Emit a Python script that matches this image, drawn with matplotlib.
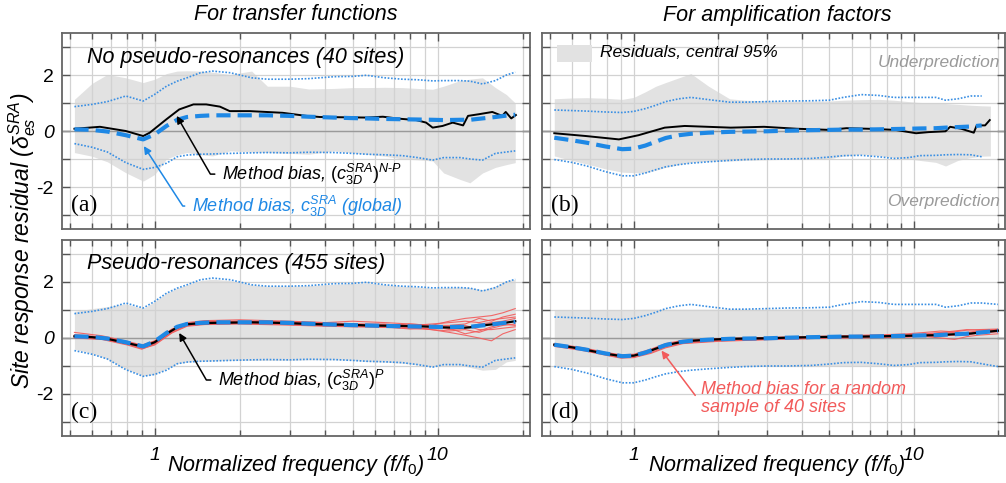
import numpy as np
import matplotlib
matplotlib.use("Agg")
import matplotlib.pyplot as plt
from matplotlib.patches import Rectangle

plt.rcParams['font.family'] = ['Liberation Sans', 'DejaVu Sans']
plt.rcParams['mathtext.fontset'] = 'custom'
plt.rcParams['mathtext.it'] = 'Liberation Sans:italic'
plt.rcParams['mathtext.rm'] = 'Liberation Sans'
plt.rcParams['mathtext.bf'] = 'Liberation Sans:bold'

# ---------------- data ----------------
freq = [0.52, 0.6, 0.68, 0.79, 0.91, 1.0, 1.1, 1.2, 1.3, 1.45, 1.6, 1.85, 2.2, 2.5, 3.0,
        3.5, 4.3, 5.0, 5.6, 6.5, 7.5, 8.5, 9.6, 10.5, 12, 13, 14.4, 16, 17.5, 18.8]
freq_d = [0.52, 0.6, 0.68, 0.79, 0.91, 1.0, 1.1, 1.2, 1.3, 1.45, 1.6, 1.85, 2.2, 2.5, 3.0,
          3.5, 4.3, 5.0, 5.6, 6.5, 7.5, 8.5, 9.6, 10.5, 12, 13, 14.4, 16, 17.5, 20.0]

# transfer functions, global (a, c)
tf_global = [0.06, 0.04, -0.02, -0.15, -0.3, -0.12, 0.18, 0.4, 0.5, 0.54, 0.56, 0.56, 0.56, 0.56, 0.54,
             0.51, 0.48, 0.46, 0.45, 0.43, 0.42, 0.41, 0.4, 0.39, 0.4, 0.4, 0.45, 0.5, 0.55, 0.58]
tf_up = [0.87, 0.95, 1.05, 1.25, 1.07, 1.31, 1.6, 1.78, 1.9, 2.08, 2.14, 2.08, 1.9, 1.85, 1.85,
         1.87, 1.94, 1.95, 1.99, 1.9, 1.85, 1.83, 1.79, 1.8, 1.8, 1.78, 1.68, 1.8, 2.0, 2.1]
tf_lo = [-0.45, -0.58, -0.75, -1.13, -1.37, -1.3, -1.15, -0.92, -0.86, -0.83, -0.82, -0.8, -0.78, -0.77, -0.78,
         -0.76, -0.77, -0.8, -0.83, -0.85, -0.88, -0.95, -1.04, -0.95, -0.95, -1.0, -1.04, -0.8, -0.75, -0.71]

# (a) no pseudo-resonances
gray_a_up = [1.13, 1.7, 2.02, 1.9, 1.73, 1.85, 2.05, 2.14, 2.15, 2.14, 2.1, 2.02, 2.14, 1.6, 1.6,
             1.5, 1.52, 1.55, 1.55, 1.56, 1.55, 1.52, 1.49, 1.6, 1.8, 1.85, 1.9, 1.55, 1.3, 1.0]
gray_a_lo = [-0.77, -0.9, -1.1, -1.49, -1.79, -1.55, -1.0, -0.85, -0.77, -0.85, -0.89, -0.71, -0.75, -0.77, -0.8,
             -0.83, -0.71, -0.78, -0.83, -0.9, -1.0, -1.03, -1.07, -1.5, -1.73, -1.85, -1.5, -1.3, -1.2, -1.13]
freq_np_tf = [0.52, 0.64, 0.79, 0.91, 0.96, 1.1, 1.22, 1.37, 1.52, 1.7, 1.84, 2.17, 2.83, 3.43, 3.83, 5.6,
              6.4, 7.3, 8.4, 9.1, 9.6, 10.4, 11.3, 12.3, 12.8, 14.0, 15.6, 16.9, 17.4, 18.2, 18.9]
bias_np_tf = [0.08, 0.15, 0.0, -0.18, -0.06, 0.42, 0.77, 0.95, 0.95, 0.87, 0.71, 0.71, 0.65, 0.54, 0.5, 0.48,
              0.51, 0.44, 0.39, 0.3, 0.12, 0.18, 0.3, 0.2, 0.54, 0.6, 0.68, 0.54, 0.68, 0.45, 0.57]

# (c) pseudo-resonances
gray_c_up = [0.95, 1.05, 1.12, 1.22, 1.05, 1.3, 1.6, 1.78, 1.9, 2.05, 2.1, 2.05, 1.9, 1.85, 1.85,
             1.87, 1.92, 1.95, 1.97, 1.9, 1.85, 1.82, 1.78, 1.8, 1.82, 1.8, 1.72, 1.85, 2.05, 2.1]
gray_c_lo = [-0.4, -0.55, -0.75, -1.1, -1.35, -1.3, -1.1, -0.92, -0.86, -0.83, -0.82, -0.8, -0.8, -0.8, -0.8,
             -0.78, -0.78, -0.8, -0.84, -0.86, -0.9, -0.96, -1.02, -0.97, -0.97, -1.05, -1.15, -1.12, -0.85, -0.8]
bias_p_tf = [0.06, 0.03, -0.03, -0.17, -0.31, -0.15, 0.15, 0.38, 0.49, 0.53, 0.54, 0.55, 0.56, 0.55, 0.53,
             0.5, 0.48, 0.47, 0.45, 0.44, 0.43, 0.42, 0.4, 0.38, 0.36, 0.38, 0.45, 0.5, 0.55, 0.6]

freq_r = [0.52, 0.65, 0.8, 0.9, 1.0, 1.15, 1.3, 1.5, 2.0, 3.0, 4.0, 5.0, 6.5, 8.0, 9.5, 11, 12.5, 14, 15.5, 17, 18.8]
red_c = [
    [0.2, 0.08, -0.12, -0.25, -0.1, 0.32, 0.55, 0.62, 0.65, 0.6, 0.55, 0.6, 0.55, 0.5, 0.45, 0.6, 0.7, 0.75, 0.8, 0.9, 1.05],
    [0.02, -0.04, -0.22, -0.38, -0.25, 0.18, 0.42, 0.48, 0.5, 0.46, 0.42, 0.4, 0.38, 0.35, 0.3, 0.2, 0.1, 0.0, -0.1, 0.15, 0.3],
    [0.1, 0.02, -0.2, -0.32, -0.18, 0.25, 0.5, 0.58, 0.6, 0.58, 0.55, 0.5, 0.45, 0.5, 0.45, 0.45, 0.5, 0.7, 0.6, 0.75, 0.85],
    [0.0, -0.05, -0.25, -0.4, -0.22, 0.2, 0.44, 0.5, 0.52, 0.48, 0.44, 0.5, 0.5, 0.4, 0.3, 0.25, 0.3, 0.2, 0.35, 0.45, 0.5],
    [0.08, 0.03, -0.15, -0.28, -0.12, 0.3, 0.52, 0.56, 0.58, 0.55, 0.5, 0.44, 0.4, 0.38, 0.42, 0.3, 0.35, 0.5, 0.55, 0.6, 0.7],
    [0.05, -0.02, -0.2, -0.34, -0.2, 0.24, 0.46, 0.52, 0.54, 0.52, 0.46, 0.45, 0.42, 0.45, 0.4, 0.35, 0.15, 0.25, 0.4, 0.5, 0.45],
    [0.12, 0.04, -0.14, -0.3, -0.14, 0.28, 0.5, 0.57, 0.6, 0.56, 0.52, 0.48, 0.47, 0.44, 0.5, 0.55, 0.6, 0.55, 0.65, 0.7, 0.75],
    [0.04, 0.0, -0.18, -0.31, -0.16, 0.26, 0.48, 0.53, 0.53, 0.5, 0.46, 0.42, 0.4, 0.32, 0.35, 0.4, 0.45, 0.3, 0.3, 0.35, 0.4],
]

# amplification factors, global (b, d)
af_global = [-0.24, -0.33, -0.42, -0.55, -0.65, -0.63, -0.52, -0.38, -0.25, -0.15, -0.1, -0.06, -0.03, -0.02, -0.01,
             0.01, 0.03, 0.04, 0.05, 0.05, 0.06, 0.07, 0.08, 0.09, 0.1, 0.12, 0.14, 0.16, 0.2, 0.26]
af_up = [0.75, 0.73, 0.71, 0.68, 0.66, 0.7, 0.8, 0.92, 1.05, 1.15, 1.2, 1.12, 1.03, 1.03, 1.05,
         1.07, 1.08, 1.1, 1.2, 1.3, 1.27, 1.2, 1.2, 1.2, 1.2, 1.1, 1.15, 1.25, 1.25, 1.2]
af_lo = [-1.02, -1.12, -1.25, -1.45, -1.6, -1.6, -1.5, -1.38, -1.28, -1.2, -1.15, -1.1, -1.05, -1.02, -1.0,
         -1.0, -0.98, -0.93, -0.88, -0.87, -0.92, -0.98, -0.95, -0.88, -0.87, -0.85, -0.84, -0.85, -0.92, -1.02]

# (b) no pseudo-resonances
gray_b_up = [1.15, 1.18, 1.19, 1.17, 1.13, 1.2, 1.4, 1.6, 1.73, 1.9, 2.05, 1.6, 1.15, 1.1, 1.08,
             1.07, 1.07, 1.07, 1.1, 1.12, 1.13, 1.1, 1.05, 1.02, 1.0, 0.98, 0.95, 0.92, 0.9, 0.89]
gray_b_lo = [-0.89, -1.05, -1.18, -1.35, -1.47, -1.49, -1.49, -1.4, -1.3, -1.2, -1.12, -1.08, -1.07, -1.05, -1.03,
             -1.01, -1.0, -0.99, -0.9, -0.83, -0.88, -0.95, -1.0, -1.05, -1.12, -1.25, -1.05, -0.95, -0.9, -0.89]
freq_np_af = [0.52, 0.675, 0.885, 1.04, 1.29, 1.52, 2.22, 2.92, 3.83, 5.0, 5.75, 6.9, 8.6, 10.2, 11.3,
              13.0, 13.5, 14.8, 16.4, 16.8, 18.0, 18.7]
bias_np_af = [-0.08, -0.18, -0.3, -0.15, 0.12, 0.18, 0.12, 0.15, 0.08, 0.04, 0.1, 0.08, 0.04, -0.08, -0.04,
              -0.01, 0.15, 0.08, -0.06, 0.2, 0.2, 0.39]

# (d) pseudo-resonances
gray_d_up = [1.02, 1.02, 1.02, 1.02, 1.02, 1.02, 1.03, 1.03, 1.03, 1.03, 1.03, 1.03, 1.03, 1.03, 1.03,
             1.03, 1.03, 1.03, 1.03, 1.03, 1.03, 1.03, 1.03, 1.03, 1.03, 1.03, 1.03, 1.03, 1.03, 1.03]
gray_d_lo = [-1.0, -1.0, -1.0, -1.0, -1.0, -1.0, -1.0, -1.0, -1.0, -1.0, -1.0, -1.0, -1.0, -1.0, -1.0,
             -1.0, -1.0, -1.0, -1.0, -1.0, -1.0, -1.0, -1.0, -1.0, -1.0, -1.0, -1.0, -1.0, -1.0, -1.0]
bias_p_af = [-0.24, -0.33, -0.43, -0.56, -0.65, -0.63, -0.52, -0.38, -0.26, -0.16, -0.1, -0.06, -0.03, -0.02, -0.01,
             0.01, 0.03, 0.04, 0.05, 0.05, 0.06, 0.07, 0.08, 0.09, 0.1, 0.12, 0.14, 0.16, 0.2, 0.26]
freq_rd = [0.52, 0.65, 0.8, 0.9, 1.0, 1.15, 1.3, 1.5, 2.0, 3.0, 4.0, 5.0, 6.5, 8.0, 9.5, 11, 12.5, 14, 15.5, 17, 20.0]
red_d = [
    [-0.2, -0.34, -0.52, -0.6, -0.58, -0.4, -0.2, -0.08, -0.02, 0.02, 0.05, 0.07, 0.1, 0.12, 0.15, 0.2, 0.25, 0.22, 0.28, 0.3, 0.32],
    [-0.28, -0.42, -0.6, -0.7, -0.68, -0.52, -0.32, -0.18, -0.1, -0.05, -0.02, 0.0, 0.0, 0.02, 0.05, 0.05, 0.0, -0.05, 0.05, 0.1, 0.15],
    [-0.25, -0.39, -0.57, -0.66, -0.65, -0.47, -0.27, -0.14, -0.07, -0.03, 0.0, 0.04, 0.08, 0.05, 0.1, 0.15, 0.2, 0.25, 0.3, 0.28, 0.3],
    [-0.22, -0.36, -0.54, -0.62, -0.61, -0.43, -0.23, -0.1, -0.04, 0.0, 0.03, 0.05, 0.04, 0.1, 0.12, 0.1, 0.15, 0.1, 0.2, 0.25, 0.28],
    [-0.3, -0.44, -0.62, -0.72, -0.7, -0.55, -0.35, -0.2, -0.12, -0.06, -0.03, 0.0, 0.03, 0.04, 0.03, 0.08, 0.05, 0.12, 0.1, 0.18, 0.22],
    [-0.24, -0.37, -0.56, -0.65, -0.64, -0.46, -0.26, -0.13, -0.06, -0.02, 0.01, 0.03, 0.06, 0.08, 0.1, 0.12, 0.18, 0.2, 0.15, 0.22, 0.26],
]

ytick_vals = [-3, -2, -1, 0, 1, 2, 3]
ytick_text = ['', '-2', '', '0', '', '2', '']

# ---------------- style ----------------
BLUE = '#1E88E5'
DOT = '#3A8FE3'
RED = '#F25A5A'
GRAY = '#E2E2E2'

fig = plt.figure(figsize=(10.06, 4.83), dpi=100)
W, H = 1006, 483
def box(x0, y0, x1, y1):
    return [x0 / W, 1 - y1 / H, (x1 - x0) / W, (y1 - y0) / H]

ax_a = fig.add_axes(box(62, 33, 530, 229))
ax_b = fig.add_axes(box(542, 33, 1005, 229))
ax_c = fig.add_axes(box(62, 240, 530, 436))
ax_d = fig.add_axes(box(542, 240, 1005, 436))

def setup(ax, left, bottom):
    ax.set_xscale('log')
    ax.set_xlim(0.47, 21.2)
    ax.set_ylim(-3.5, 3.5)
    ax.set_axisbelow('line')
    ax.grid(True, which='both', color='#d2d2d2', lw=0.9)
    ax.axhline(0, color='#9a9a9a', lw=1.0, zorder=1.6)
    ax.set_yticks(ytick_vals)
    ax.tick_params(which='both', direction='in', top=True, right=True, colors='#555555')
    ax.tick_params(which='major', length=6, width=1)
    ax.tick_params(which='minor', length=4, width=1)
    for s in ax.spines.values():
        s.set_color('#666666')
        s.set_linewidth(1.3)
    if left:
        ax.set_yticklabels(ytick_text, fontsize=14)
        ax.get_yticklabels()[3].set_style('italic')
        ax.tick_params(axis='y', labelcolor='black', pad=6)
    else:
        ax.set_yticklabels([])
    ax.xaxis.set_minor_formatter(plt.NullFormatter())
    ax.set_xticks([1, 10])
    if bottom:
        ax.set_xticklabels(['1', '10'], fontsize=14, style='italic')
        ax.tick_params(axis='x', labelcolor='black', pad=8)
    else:
        ax.set_xticklabels([])

for ax, l, b in [(ax_a, True, False), (ax_b, False, False), (ax_c, True, True), (ax_d, False, True)]:
    setup(ax, l, b)

def panel_base(ax, fr, g_up, g_lo, fr_dot, d_up, d_lo):
    ax.fill_between(fr, g_lo, g_up, color=GRAY, lw=0, zorder=1)
    ax.plot(fr_dot, d_up, color=DOT, lw=1.2, dashes=(1, 1), zorder=2)
    ax.plot(fr_dot, d_lo, color=DOT, lw=1.2, dashes=(1, 1), zorder=2)

# (a)
panel_base(ax_a, freq, gray_a_up, gray_a_lo, freq, tf_up, tf_lo)
ax_a.plot(freq_np_tf, bias_np_tf, color='black', lw=1.4, zorder=3)
ax_a.plot(freq, tf_global, color=BLUE, lw=3, dashes=(3.4, 1.7), zorder=4)

# (b)
panel_base(ax_b, freq, gray_b_up, gray_b_lo, freq_d[:-1], af_up[:-1], af_lo[:-1])
ax_b.plot(freq_np_af, bias_np_af, color='black', lw=1.4, zorder=3)
ax_b.plot(freq_d[:-1], af_global[:-1], color=BLUE, lw=3, dashes=(3.4, 1.7), zorder=4)

# (c)
panel_base(ax_c, freq, gray_c_up, gray_c_lo, freq, tf_up, tf_lo)
for r in red_c:
    ax_c.plot(freq_r, r, color=RED, lw=0.8, alpha=0.9, zorder=2.5)
ax_c.plot(freq, bias_p_tf, color='black', lw=1.6, zorder=3)
ax_c.plot(freq, tf_global, color=BLUE, lw=3, dashes=(3.4, 1.7), zorder=4)

# (d)
panel_base(ax_d, freq_d, gray_d_up, gray_d_lo, freq_d, af_up, af_lo)
for r in red_d:
    ax_d.plot(freq_rd, r, color=RED, lw=0.8, alpha=0.9, zorder=2.5)
ax_d.plot(freq_d, bias_p_af, color='black', lw=1.6, zorder=3)
ax_d.plot(freq_d, af_global, color=BLUE, lw=3, dashes=(3.4, 1.7), zorder=4)

# panel letters and headings
for ax, lab in [(ax_a, '(a)'), (ax_b, '(b)'), (ax_c, '(c)'), (ax_d, '(d)')]:
    ax.text(0.02, 0.12, lab, transform=ax.transAxes, family='Liberation Serif',
            fontsize=17, va='center', ha='left', zorder=6)
ax_a.text(0.053, 0.875, 'No pseudo-resonances (40 sites)', transform=ax_a.transAxes,
          fontsize=15.5, style='italic', va='center', ha='left', zorder=6)
ax_c.text(0.053, 0.88, 'Pseudo-resonances (455 sites)', transform=ax_c.transAxes,
          fontsize=15.5, style='italic', va='center', ha='left', zorder=6)

# legend in (b)
ax_b.add_patch(Rectangle((0.032, 0.852), 0.076, 0.087, transform=ax_b.transAxes,
                         color=GRAY, lw=0, zorder=6))
ax_b.text(0.125, 0.898, 'Residuals, central 95%', transform=ax_b.transAxes,
          fontsize=12.5, style='italic', va='center', ha='left', zorder=6)
ax_b.text(0.99, 0.852, 'Underprediction', transform=ax_b.transAxes, color='#9a9a9a',
          fontsize=12.5, style='italic', va='center', ha='right', zorder=6)
ax_b.text(0.99, 0.138, 'Overprediction', transform=ax_b.transAxes, color='#9a9a9a',
          fontsize=12.5, style='italic', va='center', ha='right', zorder=6)

# annotations
def note(ax, txt, xy, xytext, color, angB):
    ax.annotate(txt, xy=xy, xytext=xytext, color=color, fontsize=13, style='italic',
                ha='left', va='center', zorder=7, linespacing=1.1,
                arrowprops=dict(arrowstyle='-|>', color=color, lw=1.1, mutation_scale=11,
                                shrinkA=3, shrinkB=0, relpos=(0, 0.5),
                                connectionstyle='angle,angleA=180,angleB=%d,rad=0' % angB))

note(ax_a, r'Method bias, $(\mathit{c}_{\mathit{3D}}^{\mathit{SRA}})^{\mathit{N\text{-}P}}$',
     (1.196, 0.54), (1.725, -1.54), 'black', 120)
note(ax_a, r'Method bias, $\mathit{c}_{\mathit{3D}}^{\mathit{SRA}}$ (global)',
     (0.915, -0.54), (1.35, -2.68), BLUE, 123)
note(ax_c, r'Method bias, $(\mathit{c}_{\mathit{3D}}^{\mathit{SRA}})^{\mathit{P}}$',
     (1.22, 0.18), (1.67, -1.5), 'black', 120)
note(ax_d, 'Method bias for a random\nsample of 40 sites', (1.256, -0.45), (1.74, -2.15), RED, 127)

# figure labels
fig.text(296 / W, 1 - 15 / H, 'For transfer functions', fontsize=15.5, style='italic', ha='center', va='center')
fig.text(777 / W, 1 - 15 / H, 'For amplification factors', fontsize=15.5, style='italic', ha='center', va='center')
xlab = r'Normalized frequency (f/f$_{\mathit{0}}$)'
fig.text(296 / W, 1 - 466 / H, xlab, fontsize=15.5, style='italic', ha='center', va='center')
fig.text(777 / W, 1 - 466 / H, xlab, fontsize=15.5, style='italic', ha='center', va='center')
fig.text(22 / W, 1 - 241 / H, r'Site response residual ($\delta_{\mathit{es}}^{\mathit{SRA}}$)', fontsize=16.5,
         style='italic', rotation=90, ha='center', va='center')

fig.savefig('out.png', dpi=100)
